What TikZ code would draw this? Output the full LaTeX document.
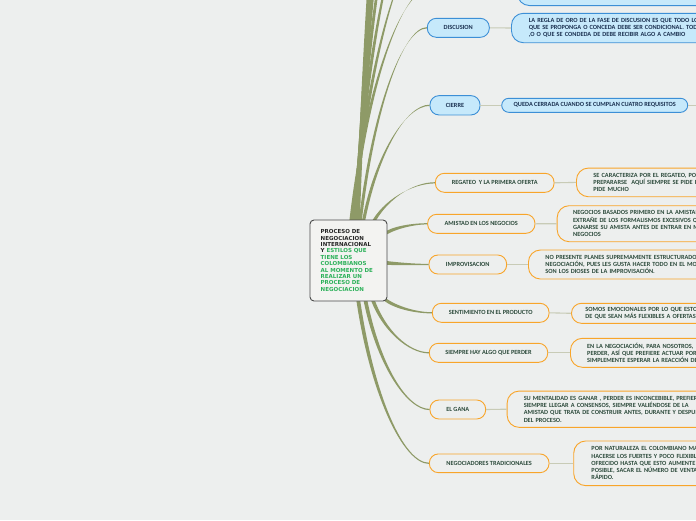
\documentclass[tikz,border=0pt]{standalone}
\usepackage{fontspec}
\setmainfont{Carlito}
\newfontfamily\cenfont{DejaVu Sans}
\usetikzlibrary{calc}
\definecolor{bg}{HTML}{EDEFEE}
\definecolor{brc}{HTML}{8E9A67}
\definecolor{conn}{HTML}{C8CBB6}
\definecolor{bluef}{HTML}{C6E9FB}
\definecolor{blued}{HTML}{3C8FD6}
\definecolor{orng}{HTML}{F8A52A}
\definecolor{txtb}{HTML}{1A3050}
\definecolor{txto}{HTML}{2C4A3B}
\definecolor{grn}{HTML}{2DB15A}
\definecolor{cenline}{HTML}{4A4A4A}
\definecolor{cenfill}{HTML}{F3F3F1}
\newcommand\brn[5]{%
 \fill[brc] let \p1=#1, \p2=#2,
   \p3=({\x1+0.2*(\x2-\x1)},{\y1+0.6*(\y2-\y1)}),
   \p4=({\x2-0.35*(\x2-\x1)},\y2) in
   (\x1+#3,\y1+#4) .. controls (\x3+#3,\y3+#4) and (\x4,\y4+#5) .. (\x2,\y2+#5)
   -- (\x2,\y2-#5) .. controls (\x4,\y4-#5) and (\x3-#3,\y3-#4) .. (\x1-#3,\y1-#4) -- cycle;}
\tikzset{
 pbase/.style={inner sep=0pt, font=\bfseries\fontsize{6.3}{7.3}\selectfont, rounded corners=9pt, line width=0.9pt},
 bluebox/.style={pbase, draw=blued, fill=bluef, text=txtb},
 orbox/.style={pbase, draw=orng, fill=bg, text=txto},
 kid/.style={anchor=west, align=left, text width=230pt, inner ysep=0pt, font=\bfseries\fontsize{6.3}{7.3}\selectfont, rounded corners=12pt, line width=0.9pt},
 bluek/.style={kid, draw=blued, fill=bluef, text=txtb},
 ork/.style={kid, draw=orng, fill=bg, text=txto},
 link/.style={draw=conn, line width=1.1pt},
 cenbox/.style={draw=cenline, fill=cenfill, line width=0.9pt, rounded corners=4pt, minimum height=81pt, text width=55.6pt, inner xsep=10.7pt, inner ysep=0pt, align=left, font=\cenfont\bfseries\fontsize{5.5}{6.4}\selectfont, text=black!85}
}
\begin{document}
\begin{tikzpicture}[x=1pt,y=-1pt]
\useasboundingbox (0,0) rectangle (696,520);
\fill[bg] (0,0) rectangle (696,520);
% off-picture ends of the upper branches
\coordinate (t1) at (430,-12);
\coordinate (t2) at (430,-60);
\coordinate (t3) at (430,-120);
\coordinate (t4) at (430,-190);
\coordinate (t5) at (430,-270);
\coordinate (t6) at (430,-360);
\coordinate (t7) at (430,-460);
% first-level nodes
\node[bluebox, minimum width=62pt, minimum height=19pt] (disc) at (458.3,27.8) {DISCUSION};
\node[bluebox, minimum width=50pt, minimum height=19.3pt] (cier) at (455,105.3) {CIERRE};
\node[orbox, minimum width=118.7pt, minimum height=19pt] (reg) at (494.7,182.8) {REGATEO\ \ Y LA PRIMERA OFERTA};
\node[orbox, minimum width=107.3pt, minimum height=19pt] (amis) at (481.3,223.8) {AMISTAD EN LOS NEGOCIOS};
\node[orbox, minimum width=77.7pt, minimum height=19pt] (impr) at (467.8,264.5) {IMPROVISACION};
\node[orbox, minimum width=116.7pt, minimum height=19pt] (sent) at (490.7,312.8) {SENTIMIENTO EN EL PRODUCTO};
\node[orbox, minimum width=118.4pt, minimum height=19pt] (siem) at (488.5,352.8) {SIEMPRE HAY ALGO QUE PERDER};
\node[orbox, minimum width=55.7pt, minimum height=19pt] (gana) at (457.8,409.5) {EL GANA};
\node[orbox, minimum width=119.7pt, minimum height=18.7pt] (nego) at (489.2,463.3) {NEGOCIADORES TRADICIONALES};
% centre node (position reference)
\path (348.5,260.5) node[minimum width=77pt, minimum height=81pt, inner sep=0pt] (cen) {};
% branches
\brn{($(cen.north west)+(41,5)$)}{(t1)}{1.9pt}{0pt}{0.8pt}
\brn{($(cen.north west)+(43,5)$)}{(t2)}{1.9pt}{0pt}{0.9pt}
\brn{($(cen.north west)+(44,5)$)}{(t3)}{1.9pt}{0pt}{0.9pt}
\brn{($(cen.north west)+(45,5)$)}{(t4)}{1.9pt}{0pt}{0.9pt}
\brn{($(cen.north west)+(46,5)$)}{(t5)}{1.9pt}{0pt}{0.9pt}
\brn{($(cen.north west)+(47,5)$)}{(t6)}{1.9pt}{0pt}{0.9pt}
\brn{($(cen.north west)+(48,5)$)}{(t7)}{1.9pt}{0pt}{0.9pt}
\brn{($(cen.north west)+(50,5)$)}{(disc.west)}{1.5pt}{0pt}{0.6pt}
\brn{($(cen.north west)+(53,5)$)}{(cier.west)}{1.6pt}{0pt}{0.6pt}
\brn{($(cen.north west)+(62,5)$)}{(reg.west)}{1.9pt}{0pt}{0.6pt}
\brn{($(cen.north east)+(-4,15)$)}{(amis.west)}{0pt}{1.9pt}{0.6pt}
\brn{($(cen.east)+(-4,2)$)}{(impr.west)}{0pt}{1.9pt}{0.6pt}
\brn{($(cen.south east)+(-5,-4)$)}{(sent.west)}{0pt}{1.9pt}{0.6pt}
\brn{($(cen.south west)+(62,-4)$)}{(siem.west)}{1.9pt}{0pt}{0.6pt}
\brn{($(cen.south west)+(55,-4)$)}{(gana.west)}{1.9pt}{0pt}{0.6pt}
\brn{($(cen.south west)+(48,-4)$)}{(nego.west)}{1.9pt}{0pt}{0.6pt}
% centre node drawn over the branches
\node[cenbox] (cenbox) at (cen.center) {\mbox{PROCESO DE}\\\mbox{NEGOCIACION}\\\mbox{INTERNACIONAL}\\\mbox{Y \textcolor{grn}{ESTILOS QUE}}\\\mbox{\textcolor{grn}{TIENE LOS}}\\\mbox{\textcolor{grn}{COLOMBIANOS}}\\\mbox{\textcolor{grn}{AL MOMENTO DE}}\\\mbox{\textcolor{grn}{REALIZAR UN}}\\\mbox{\textcolor{grn}{PROCESO DE}}\\\mbox{\textcolor{grn}{NEGOCIACION}}};
% children
\node[bluek, inner xsep=15pt, minimum height=36.5pt] (topK) at (517,-12.7) {\mbox{}\\\mbox{}\\\mbox{}\\DEBE.};
\node[bluek, inner xsep=17.3pt, minimum height=29.4pt] (discK) at (511,28) {LA REGLA DE ORO DE LA FASE DE DISCUSION ES QUE TODO LO\\QUE SE PROPONGA O CONCEDA DEBE SER CONDICIONAL. TODO\\,O O QUE SE CONDEDA DE DEBE RECIBIR ALGO A CAMBIO};
\node[bluebox, minimum width=186pt, minimum height=14pt, rounded corners=7pt] (cierK) at (594.7,105.3) {QUEDA CERRADA CUANDO SE CUMPLAN CUATRO REQUISITOS};
\coordinate (cierNext) at (720,105.3);
\node[ork, inner xsep=17pt, minimum height=28.7pt] (regK) at (576,182.4) {SE CARACTERIZA POR EL REGATEO, POR\\PREPARARSE\ \ AQUÍ SIEMPRE SE PIDE R\\PIDE MUCHO};
\node[ork, inner xsep=16pt, minimum height=36pt] (amisK) at (556.7,223.7) {NEGOCIOS BASADOS PRIMERO EN LA AMISTAD\\EXTRAÑE DE LOS FORMALISMOS EXCESIVOS Q\\GANARSE SU AMISTA ANTES DE ENTRAR EN M\\NEGOCIOS};
\node[ork, inner xsep=17pt, minimum height=29pt] (imprK) at (528,264.5) {NO PRESENTE PLANES SUPREMAMENTE ESTRUCTURADOS\\NEGOCIACIÓN, PUES LES GUSTA HACER TODO EN EL MO\\SON LOS DIOSES DE LA IMPROVISACIÓN.};
\node[ork, inner xsep=14pt, minimum height=20pt, rounded corners=10pt] (sentK) at (571,313.3) {SOMOS EMOCIONALES POR LO QUE ESTO\\DE QUE SEAN MÁS FLEXIBLES A OFERTAS};
\node[ork, inner xsep=16.7pt, minimum height=29pt] (siemK) at (570,352.8) {EN LA NEGOCIACIÓN, PARA NOSOTROS,\\PERDER, ASÍ QUE PREFIERE ACTUAR POR\\SIMPLEMENTE ESPERAR LA REACCIÓN DE};
\node[ork, inner xsep=16.6pt, minimum height=36.3pt] (ganaK) at (506.7,409.2) {SU MENTALIDAD ES GANAR , PERDER ES INCONCEBIBLE, PREFIERE\\SIEMPRE LLEGAR A CONSENSOS, SIEMPRE VALIÉNDOSE DE LA\\AMISTAD QUE TRATA DE CONSTRUIR ANTES, DURANTE Y DESPUÉS\\DEL PROCESO.};
\node[ork, inner xsep=17.7pt, minimum height=44.7pt] (negoK) at (573.3,463.3) {POR NATURALEZA EL COLOMBIANO MA\\HACERSE LOS FUERTES Y POCO FLEXIBL\\OFRECIDO HASTA QUE ESTO AUMENTE\\POSIBLE, SACAR EL NÚMERO DE VENTA,\\RÁPIDO.};
% links
\draw[link] (disc.east) -- (discK.west);
\draw[link] (cier.east) -- (cierK.west);
\draw[link] (cierK.east) -- (cierNext);
\draw[link] (reg.east) -- (regK.west);
\draw[link] (amis.east) -- (amisK.west);
\draw[link] (impr.east) -- (imprK.west);
\draw[link] (sent.east) -- (sentK.west);
\draw[link] (siem.east) -- (siemK.west);
\draw[link] (gana.east) -- (ganaK.west);
\draw[link] (nego.east) -- (negoK.west);
\end{tikzpicture}
\end{document}
